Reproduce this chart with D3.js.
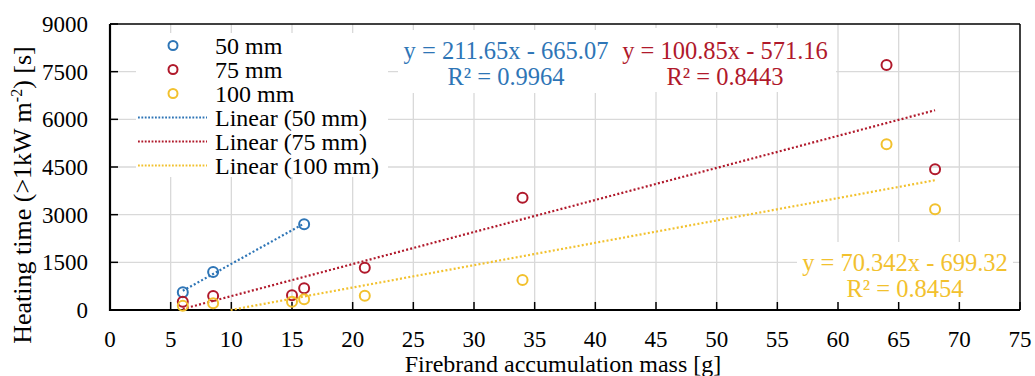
<!DOCTYPE html>
<html><head><meta charset="utf-8">
<script src="https://cdn.jsdelivr.net/npm/d3@7/dist/d3.min.js"></script>
<style>body{margin:0;background:#fff}svg{display:block}text{font-family:"Liberation Serif","Times New Roman",serif}</style>
</head><body><svg id="c" width="1035" height="376"></svg>
<script>
const xTicks = [0,5,10,15,20,25,30,35,40,45,50,55,60,65,70,75];
const yTicks = [0,1500,3000,4500,6000,7500,9000];
const series = ["50 mm","75 mm","100 mm"];
const colors = ["#2e75b6","#b0192b","#f2c12e"];
const x50 = [6,8.5,16];
const y50 = [557,1196,2696];
const x75 = [6,8.5,15,16,21,34,64,68];
const y75 = [261,440,462,683,1331,3534,7709,4427];
const x100 = [6,8.5,15,16,21,34,64,68];
const y100 = [130,210,261,336,450,944,5214,3168];
const slopes = [211.65,100.85,70.342];
const intercepts = [-665.07,-571.16,-699.32];
const eqText = ["y = 211.65x - 665.07","y = 100.85x - 571.16","y = 70.342x - 699.32"];
const r2Text = ["R² = 0.9964","R² = 0.8443","R² = 0.8454"];
const xLabel = "Firebrand accumulation mass [g]";

const svg = d3.select("#c");
const L=110,R=1020,T=24,B=310;
const x = d3.scaleLinear().domain([0,75]).range([L,R]);
const y = d3.scaleLinear().domain([0,9000]).range([B,T]);

// grid
const g = svg.append("g");
g.selectAll(".gx").data(xTicks.slice(1,-1)).join("line")
 .attr("x1",d=>x(d)).attr("x2",d=>x(d)).attr("y1",T).attr("y2",B)
 .attr("stroke","#d9d9d9").attr("stroke-width",1.3);
g.selectAll(".gy").data(yTicks.slice(1,-1)).join("line")
 .attr("y1",d=>y(d)).attr("y2",d=>y(d)).attr("x1",L).attr("x2",R)
 .attr("stroke","#d9d9d9").attr("stroke-width",1.3);

// label backgrounds
const bg = svg.append("g").attr("fill","#fff");
bg.append("rect").attr("x",136).attr("y",33).attr("width",252).attr("height",144);
bg.append("rect").attr("x",398).attr("y",30).attr("width",218).attr("height",63);
bg.append("rect").attr("x",616).attr("y",28).attr("width",220).attr("height",64);
bg.append("rect").attr("x",797).attr("y",242).attr("width",216).attr("height",66);

// ticks
const ax = svg.append("g");
ax.selectAll(".tx").data(xTicks).join("line")
 .attr("x1",d=>x(d)).attr("x2",d=>x(d)).attr("y1",B).attr("y2",B-8)
 .attr("stroke","#000").attr("stroke-width",1.5);
ax.selectAll(".ty").data(yTicks).join("line")
 .attr("y1",d=>y(d)).attr("y2",d=>y(d)).attr("x1",L).attr("x2",L+8)
 .attr("stroke","#000").attr("stroke-width",1.5);
// frame
svg.append("line").attr("x1",L).attr("x2",R).attr("y1",T).attr("y2",T).attr("stroke","#000").attr("stroke-width",1.5);
svg.append("line").attr("x1",R).attr("x2",R).attr("y1",T).attr("y2",B).attr("stroke","#000").attr("stroke-width",1.5);
svg.append("line").attr("x1",L).attr("x2",L).attr("y1",T).attr("y2",B+1).attr("stroke","#000").attr("stroke-width",2.2);
svg.append("line").attr("x1",L-1).attr("x2",R).attr("y1",B).attr("y2",B).attr("stroke","#000").attr("stroke-width",2.2);

// tick labels
svg.selectAll(".xl").data(xTicks).join("text")
 .attr("x",d=>x(d)).attr("y",347).attr("text-anchor","middle")
 .attr("font-size",23).text(d=>d);
svg.selectAll(".yl").data(yTicks).join("text")
 .attr("x",88).attr("y",d=>y(d)).attr("dy","0.35em").attr("text-anchor","end")
 .attr("font-size",23).text(d=>d);

// axis titles
svg.append("text").attr("x",563).attr("y",372).attr("text-anchor","middle").attr("font-size",24).text(xLabel);
const yt = svg.append("text").attr("transform","translate(31,195) rotate(-90)")
 .attr("text-anchor","middle").attr("font-size",26);
yt.append("tspan").text("Heating time (>1kW m");
yt.append("tspan").attr("font-size",16).attr("dy",-9).text("-2");
yt.append("tspan").attr("dy",9).text(") [s]");

// trendlines
const xs = [x50,x75,x100], ys=[y50,y75,y100];
xs.forEach((xv,i)=>{
  let x0 = d3.min(xv), x1 = d3.max(xv);
  const m=slopes[i], b=intercepts[i];
  if (m*x0+b < 0) x0 = -b/m;
  svg.append("line").attr("x1",x(x0)).attr("y1",y(m*x0+b)).attr("x2",x(x1)).attr("y2",y(m*x1+b))
   .attr("stroke",colors[i]).attr("stroke-width",2.2).attr("stroke-dasharray","2,2.2");
});
// points
xs.forEach((xv,i)=>{
  svg.append("g").selectAll("circle").data(xv.map((d,j)=>[d,ys[i][j]])).join("circle")
   .attr("cx",d=>x(d[0])).attr("cy",d=>y(d[1])).attr("r",5)
   .attr("fill","none").attr("stroke",colors[i]).attr("stroke-width",2);
});

// legend
const lg = svg.append("g");
series.forEach((s,i)=>{
  const yy = 45.5 + i*24;
  lg.append("circle").attr("cx",173).attr("cy",yy).attr("r",4.5).attr("fill","none").attr("stroke",colors[i]).attr("stroke-width",2);
  lg.append("text").attr("x",215).attr("y",yy).attr("dy","0.35em").attr("font-size",24).text(s);
});
series.forEach((s,i)=>{
  const yy = 117.5 + i*24;
  lg.append("line").attr("x1",138).attr("x2",207).attr("y1",yy).attr("y2",yy)
   .attr("stroke",colors[i]).attr("stroke-width",1.8).attr("stroke-dasharray","1.8,1.6");
  lg.append("text").attr("x",215).attr("y",yy).attr("dy","0.35em").attr("font-size",24).text("Linear ("+s+")");
});

// equations
const eqPos = [[506,50],[725,50],[905,262]];
eqPos.forEach((p,i)=>{
  svg.append("text").attr("x",p[0]).attr("y",p[1]).attr("dy","0.35em").attr("text-anchor","middle")
   .attr("font-size",24.5).attr("fill",colors[i]).text(eqText[i]);
  svg.append("text").attr("x",p[0]).attr("y",p[1]+26).attr("dy","0.35em").attr("text-anchor","middle")
   .attr("font-size",24.5).attr("fill",colors[i]).text(r2Text[i]);
});
</script></body></html>
